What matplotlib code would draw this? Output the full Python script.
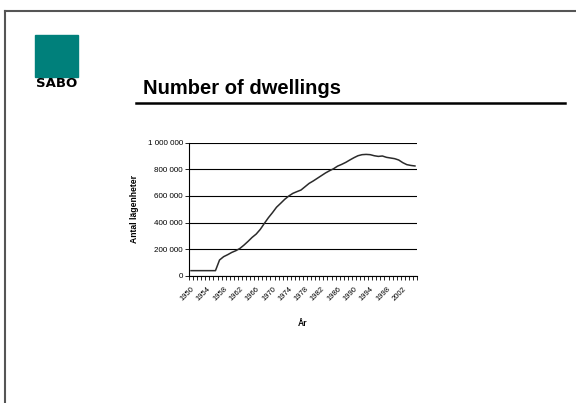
import numpy as np
import matplotlib.pyplot as plt
from matplotlib.lines import Line2D
from matplotlib.patches import Rectangle
from matplotlib.ticker import FuncFormatter, MultipleLocator

plt.rcParams['font.family'] = ['Liberation Sans', 'DejaVu Sans']

# data
years = list(range(1950, 2006))
dwellings = [38000, 38000, 38000, 38000, 38000, 38000, 38000,
             118000, 143000, 158000, 175000, 188000, 205000, 230000,
             258000, 288000, 313000, 348000, 393000, 436000, 474000,
             515000, 544000, 574000, 599000, 619000, 632000, 644000,
             669000, 694000, 712000, 732000, 752000, 772000, 789000,
             804000, 824000, 837000, 852000, 870000, 887000, 902000,
             910000, 912000, 910000, 902000, 897000, 900000, 890000,
             885000, 880000, 870000, 850000, 835000, 829000, 825000]
label_years = years[::4]

fig = plt.figure(figsize=(5.76, 4.03), dpi=100)
W, H = 576, 403

def fx(px):
    return px / W

def fy(py):
    return 1 - py / H

# slide frame
fig.add_artist(Line2D([fx(5), 1], [fy(11), fy(11)], color='#555555', lw=1.5))
fig.add_artist(Line2D([fx(5), fx(5)], [fy(11), 0], color='#555555', lw=1.5))

# logo
fig.add_artist(Rectangle((fx(35), fy(77)), fx(43), 42 / H, color='#00807b'))
fig.text(fx(56.5), fy(83.5), 'SABO', fontsize=9.5, fontweight='bold',
         family='DejaVu Sans', ha='center', va='center')

# title
fig.text(fx(143), fy(94), 'Number of dwellings', fontsize=14.5,
         fontweight='bold', ha='left', va='baseline')
fig.add_artist(Line2D([fx(136), fx(565)], [fy(103), fy(103)], color='black', lw=1.8))

# chart
ax = fig.add_axes([fx(189), fy(275.7), fx(417) - fx(189), (275.7 - 142.7) / H])
x = np.arange(len(years))
ax.plot(x, dwellings, color='#2b2b2b', lw=1.1)
ax.set_xlim(-0.5, len(years) - 0.5)
ax.set_ylim(0, 1000000)
ax.yaxis.set_major_locator(MultipleLocator(200000))
ax.yaxis.set_major_formatter(FuncFormatter(lambda v, p: f'{int(v):,}'.replace(',', ' ')))
ax.grid(axis='y', color='black', lw=0.8)
ax.set_axisbelow(True)
for s in ['top', 'right']:
    ax.spines[s].set_visible(False)
ax.spines['left'].set_linewidth(0.8)
ax.spines['bottom'].set_linewidth(0.8)

ax.set_xticks([years.index(y) for y in label_years])
ax.set_xticklabels([str(y) for y in label_years], rotation=45, ha='right',
                   rotation_mode='anchor', fontsize=5.5)
ax.set_xticks(np.arange(-0.5, len(years)), minor=True)
ax.tick_params(axis='x', which='major', length=0, pad=7)
ax.tick_params(axis='x', which='minor', length=3, width=0.6, direction='out')
ax.tick_params(axis='y', labelsize=5.8, length=3, width=0.6, pad=1.5)

ax.set_ylabel('Antal lägenheter', fontsize=6.2, fontweight='bold', labelpad=6)
ax.set_xlabel('År', fontsize=6.2, fontweight='bold', labelpad=12)

fig.savefig('out.png', dpi=100)
